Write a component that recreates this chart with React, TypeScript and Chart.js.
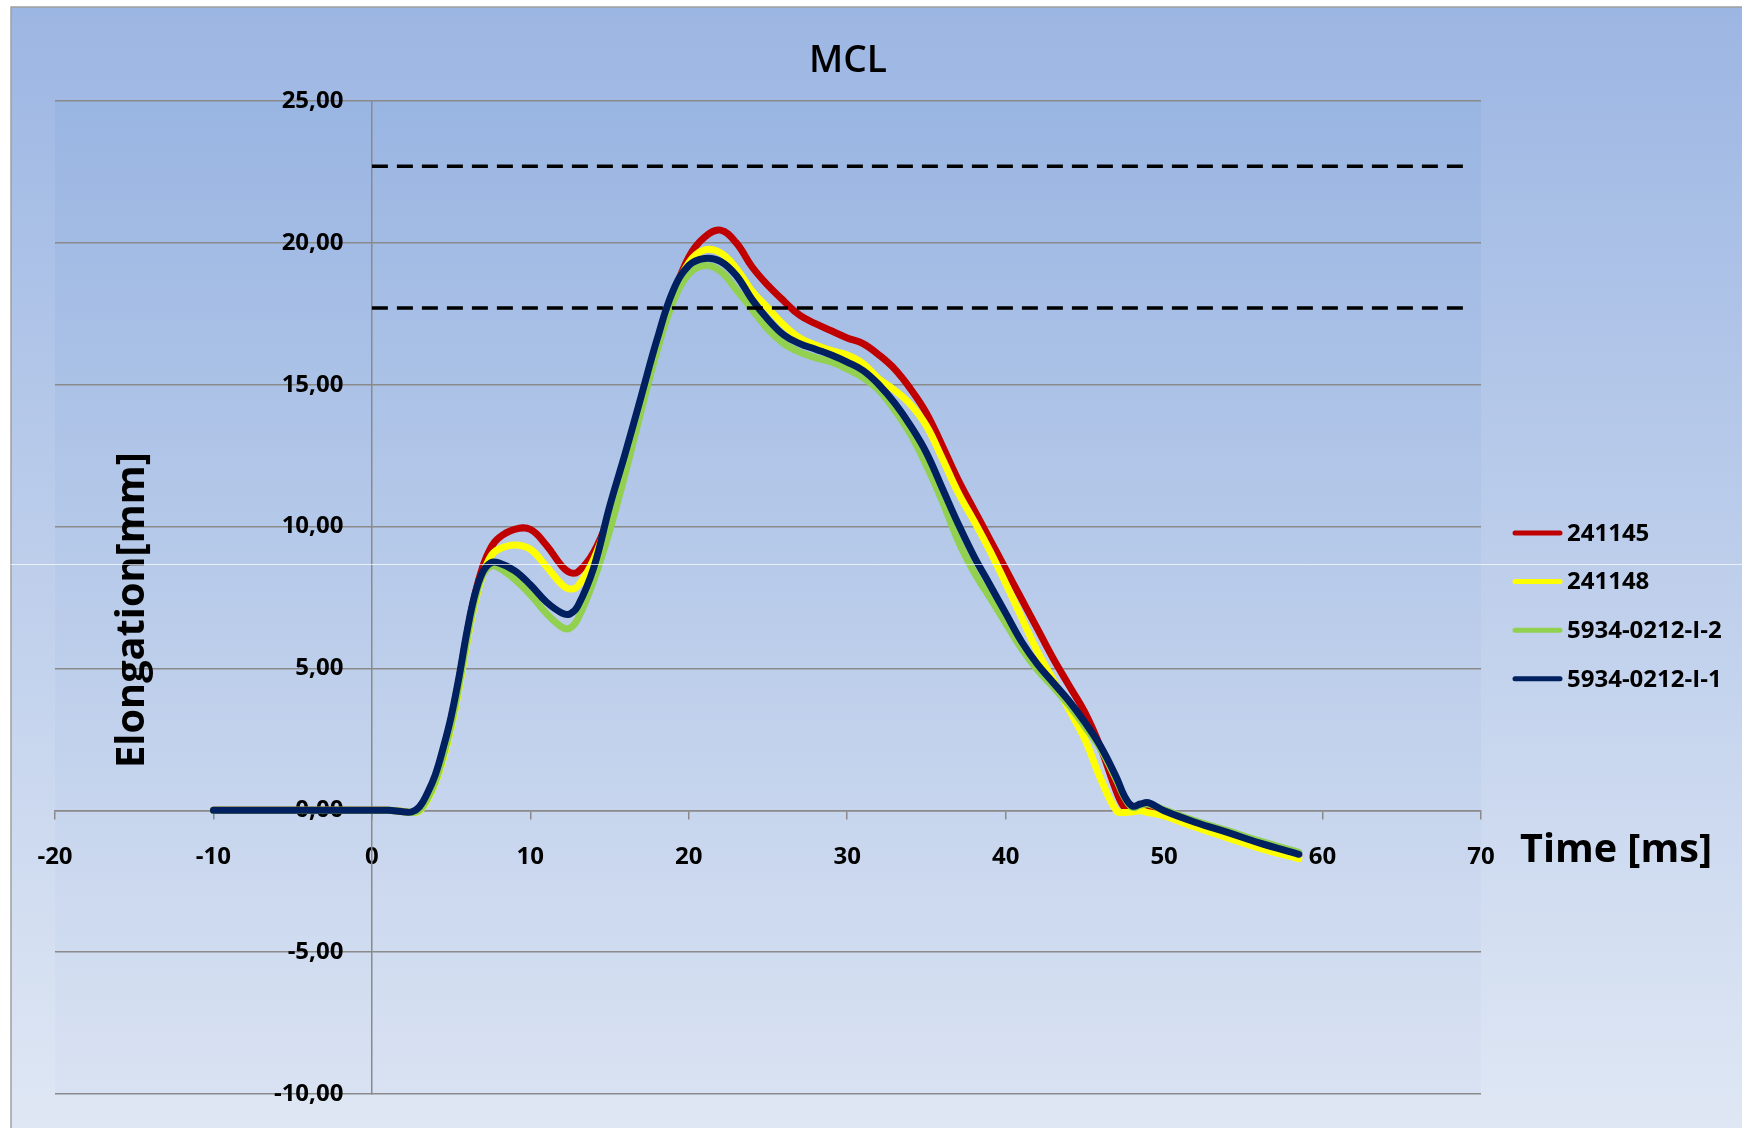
import React, { useEffect, useRef } from 'react';
import { Chart, registerables } from 'chart.js';

Chart.register(...registerables);

const chartTitle = 'MCL';
const xAxisTitle = 'Time [ms]';
const yAxisTitle = 'Elongation[mm]';

const xMin = -20;
const xMax = 70;
const xStep = 10;
const yMin = -10;
const yMax = 25;
const yStep = 5;

const timeMs = [
  -10, -5, 0, 1, 2, 2.5, 3, 3.5, 4, 4.5, 5, 5.5, 6, 6.5, 7, 7.5, 8, 9, 10, 11,
  12, 12.5, 13, 14, 15, 16, 17, 18, 19, 20, 21, 22, 23, 24, 25, 26, 27, 28, 29, 30,
  31, 32, 33, 34, 35, 36, 37, 38, 39, 40, 41, 42, 43, 44, 45, 46, 47, 47.5, 48, 48.5,
  49, 50, 52, 54, 56, 58.5,
];

const series241145 = [
  0, 0, 0, 0, -0.05, -0.07, 0.05, 0.5, 1.15, 2.1, 3.2, 4.6, 6.2, 7.6, 8.6, 9.25, 9.6, 9.9, 9.9, 9.35,
  8.6, 8.38, 8.4, 9.1, 10.4, 12.2, 14.3, 16.3, 18.1, 19.5, 20.2, 20.45, 20.0, 19.15, 18.5, 17.95, 17.45, 17.15, 16.9, 16.65,
  16.45, 16.05, 15.55, 14.85, 14.0, 12.85, 11.65, 10.6, 9.55, 8.5, 7.45, 6.4, 5.35, 4.4, 3.45, 2.2, 0.65, 0.1, -0.02, 0.1,
  0.15, -0.05, -0.45, -0.82, -1.2, -1.6,
];

const series241148 = [
  0, 0, 0, 0, -0.04, -0.08, -0.02, 0.35, 0.95, 1.8, 2.9, 4.3, 5.9, 7.3, 8.3, 8.95, 9.2, 9.35, 9.2, 8.6,
  7.95, 7.8, 7.9, 8.85, 10.4, 12.35, 14.45, 16.45, 18.15, 19.3, 19.75, 19.65, 19.1, 18.3, 17.7, 17.1, 16.65, 16.4, 16.2, 16.05,
  15.75, 15.2, 14.8, 14.3, 13.55, 12.4, 11.2, 10.2, 9.15, 8.0, 6.8, 5.6, 4.6, 3.55, 2.5, 1.1, -0.02, -0.08, -0.05, -0.02,
  -0.08, -0.2, -0.6, -0.97, -1.33, -1.7,
];

const series5934I2 = [
  0, 0, 0, 0, -0.05, -0.08, 0.0, 0.4, 1.0, 1.9, 3.0, 4.4, 6.0, 7.4, 8.3, 8.6, 8.55, 8.15, 7.6, 6.95,
  6.45, 6.42, 6.75, 8.1, 9.85, 11.9, 14.1, 16.2, 17.9, 18.9, 19.2, 19.0, 18.35, 17.65, 16.95, 16.45, 16.15, 15.95, 15.8, 15.55,
  15.25, 14.8, 14.1, 13.25, 12.15, 10.9, 9.5, 8.4, 7.5, 6.6, 5.7, 4.95, 4.35, 3.7, 2.95, 2.15, 1.05, 0.45, 0.1, 0.18,
  0.22, 0.02, -0.38, -0.72, -1.08, -1.48,
];

const series5934I1 = [
  0, 0, 0, 0, -0.05, -0.06, 0.12, 0.6, 1.25, 2.2, 3.3, 4.7, 6.3, 7.6, 8.4, 8.72, 8.72, 8.45, 7.95, 7.35,
  6.95, 6.92, 7.2, 8.55, 10.7, 12.6, 14.6, 16.6, 18.3, 19.2, 19.45, 19.35, 18.85, 18.0, 17.3, 16.75, 16.45, 16.25, 16.05, 15.8,
  15.5, 15.0, 14.35, 13.55, 12.6, 11.35, 10.1, 8.95, 7.95, 6.95, 5.95, 5.15, 4.5, 3.85, 3.1, 2.25, 1.15, 0.5, 0.15, 0.22,
  0.27, -0.02, -0.43, -0.78, -1.15, -1.55,
];

const seriesLabels = ['241145', '241148', '5934-0212-I-2', '5934-0212-I-1'];
const seriesValues = [series241145, series241148, series5934I2, series5934I1];
const seriesColors = ['#c00000', '#ffff00', '#92d050', '#002060'];

const limitLevels = [22.7, 17.7];
const limitStartMs = 0;
const limitEndMs = 69;

const FONT = '"Open Sans", "DejaVu Sans", sans-serif';
const GRID = '#8a8a8a';

function fitFont(ctx: CanvasRenderingContext2D, text: string, weight: string, target: number) {
  ctx.font = `${weight} 100px ${FONT}`;
  const w = ctx.measureText(text).width;
  const size = (100 * target) / w;
  ctx.font = `${weight} ${size}px ${FONT}`;
}

const decorPlugin = {
  id: 'decor',
  beforeDraw(chart: any) {
    const { ctx, width, height, chartArea } = chart;
    ctx.save();
    ctx.fillStyle = '#ffffff';
    ctx.fillRect(0, 0, width, height);
    const g = ctx.createLinearGradient(0, 7, 0, height);
    g.addColorStop(0, '#9cb6e3');
    g.addColorStop(1, '#dfe7f4');
    ctx.fillStyle = g;
    ctx.fillRect(11, 7, width - 11, height - 7);
    const g2 = ctx.createLinearGradient(0, chartArea.top, 0, chartArea.bottom);
    g2.addColorStop(0, '#99b5e2');
    g2.addColorStop(1, '#d9e2f2');
    ctx.fillStyle = g2;
    ctx.fillRect(chartArea.left, chartArea.top, chartArea.right - chartArea.left, chartArea.bottom - chartArea.top);
    ctx.strokeStyle = '#a0a0a0';
    ctx.lineWidth = 1.5;
    ctx.beginPath();
    ctx.moveTo(11, height);
    ctx.lineTo(11, 7);
    ctx.lineTo(width, 7);
    ctx.stroke();
    ctx.restore();
  },
  afterDraw(chart: any) {
    const { ctx, width } = chart;
    ctx.save();
    ctx.fillStyle = '#000000';
    // title
    fitFont(ctx, chartTitle, '600', 78);
    ctx.textAlign = 'center';
    ctx.textBaseline = 'alphabetic';
    ctx.fillText(chartTitle, 848, 72);
    // x axis title
    fitFont(ctx, xAxisTitle, 'bold', 192);
    ctx.textAlign = 'left';
    ctx.fillText(xAxisTitle, 1520, 862);
    // y axis title
    ctx.save();
    ctx.translate(144, 610);
    ctx.rotate(-Math.PI / 2);
    fitFont(ctx, yAxisTitle, 'bold', 316);
    ctx.textAlign = 'center';
    ctx.fillText(yAxisTitle, 0, 0);
    ctx.restore();
    // legend
    const items = chart.data.datasets.filter((d: any) => !d.isLimit);
    ctx.font = `bold 24px ${FONT}`;
    ctx.textAlign = 'left';
    ctx.textBaseline = 'middle';
    items.forEach((d: any, i: number) => {
      const y = 533 + i * 48.6;
      ctx.strokeStyle = d.borderColor;
      ctx.lineWidth = 5;
      ctx.lineCap = 'round';
      ctx.beginPath();
      ctx.moveTo(1515, y);
      ctx.lineTo(1560, y);
      ctx.stroke();
      ctx.fillStyle = '#000000';
      ctx.fillText(d.label, 1567, y + 1);
    });
    // faint scan line of the original picture
    ctx.strokeStyle = 'rgba(255,255,255,0.7)';
    ctx.lineWidth = 1;
    ctx.beginPath();
    ctx.moveTo(11, 564.5);
    ctx.lineTo(width, 564.5);
    ctx.stroke();
    ctx.restore();
  },
};

const tickFont = { family: FONT, size: 24, weight: 'bold' as const };

export default function App() {
  const ref = useRef<HTMLCanvasElement>(null);

  useEffect(() => {
    document.body.style.margin = '0';
    const canvas = ref.current;
    if (!canvas) return;

    const datasets: any[] = seriesLabels.map((label, i) => ({
      label,
      data: timeMs.map((t, k) => ({ x: t, y: seriesValues[i][k] })),
      borderColor: seriesColors[i],
      backgroundColor: seriesColors[i],
      borderWidth: 7,
      pointRadius: 0,
      pointHoverRadius: 0,
      tension: 0.4,
      borderCapStyle: 'round',
      borderJoinStyle: 'round',
      order: seriesLabels.length - 1 - i,
      fill: false,
    }));
    limitLevels.forEach((lvl, i) => {
      datasets.push({
        label: `limit${i}`,
        isLimit: true,
        data: [
          { x: limitStartMs, y: lvl },
          { x: limitEndMs, y: lvl },
        ],
        borderColor: '#000000',
        borderWidth: 3.5,
        borderDash: [16, 9],
        pointRadius: 0,
        order: -1,
        fill: false,
      });
    });

    const chart = new Chart(canvas, {
      type: 'line',
      data: { datasets },
      options: {
        animation: false,
        responsive: false,
        devicePixelRatio: 1,
        layout: { padding: { left: 55, top: 101, right: 261, bottom: 34 } },
        plugins: {
          legend: { display: false },
          title: { display: false },
          tooltip: { enabled: false },
        },
        scales: {
          x: {
            type: 'linear',
            min: xMin,
            max: xMax,
            position: { y: 0 } as any,
            ticks: {
              stepSize: xStep,
              font: tickFont,
              color: '#000000',
              padding: 24,
              maxRotation: 0,
              autoSkip: false,
              callback: (v: any) => String(v),
            },
            grid: { drawOnChartArea: false, drawTicks: true, tickLength: 8, color: GRID, lineWidth: 1.5 },
            border: { display: true, color: GRID, width: 1.5 },
          },
          yGrid: {
            type: 'linear',
            axis: 'y',
            min: yMin,
            max: yMax,
            position: { x: 0 } as any,
            ticks: { stepSize: yStep, display: false },
            grid: { color: GRID, lineWidth: 1.5, drawTicks: false },
            border: { display: true, color: GRID, width: 1.5 },
          },
          y: {
            type: 'linear',
            min: yMin,
            max: yMax,
            position: { x: -1.8 } as any,
            z: 1,
            ticks: {
              stepSize: yStep,
              font: tickFont,
              color: '#000000',
              callback: (v: any) => Number(v).toFixed(2).replace('.', ','),
            },
            grid: { display: false, drawTicks: false },
            border: { display: false },
          },
        },
      },
      plugins: [decorPlugin],
    });

    return () => chart.destroy();
  }, []);

  return <canvas ref={ref} width={1742} height={1128} style={{ display: 'block' }} />;
}
